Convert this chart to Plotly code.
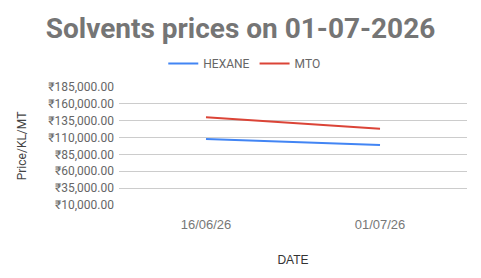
import plotly.graph_objects as go

dates = ["16/06/26", "01/07/26"]
hexane = [108000, 99000]
mto = [140000, 123000]
y_ticks = [10000, 35000, 60000, 85000, 110000, 135000, 160000, 185000]
y_ticktext = ["₹{:,.2f}".format(v) for v in y_ticks]

fig = go.Figure()
fig.add_trace(go.Scatter(x=dates, y=hexane, name="HEXANE", mode="lines",
                         line=dict(color="#4285F4", width=2)))
fig.add_trace(go.Scatter(x=dates, y=mto, name="MTO", mode="lines",
                         line=dict(color="#DB4437", width=2)))

fig.update_layout(
    width=481, height=278,
    margin=dict(l=119, r=14, t=87, b=73, autoexpand=False),
    paper_bgcolor="white", plot_bgcolor="white",
    title=dict(text="<b>Solvents prices on 01-07-2026</b>", x=0.5, xanchor="center",
               y=0.9, yanchor="middle",
               font=dict(family="Roboto", size=28, color="#757575")),
    legend=dict(orientation="h", x=0.36, xanchor="center", y=1.2, yanchor="middle",
                font=dict(family="Roboto", size=12, color="#666666"),
                itemwidth=30),
    showlegend=True,
)
fig.update_xaxes(type="category", range=[-0.5, 1.5], showgrid=False, showline=False,
                 zeroline=False, ticks="", automargin=False, ticklabelstandoff=10,
                 tickfont=dict(family="Liberation Sans", size=13, color="#777777"),
                 title=dict(text="DATE", font=dict(family="Liberation Sans", size=12, color="#333333"),
                            standoff=24))
fig.update_yaxes(range=[10000, 185000], tickvals=y_ticks, ticktext=y_ticktext,
                 showgrid=True, gridcolor="#cccccc", gridwidth=1, zeroline=False,
                 showline=False, ticks="", automargin=False, ticklabelstandoff=4,
                 tickfont=dict(family="Roboto, Noto Sans, DejaVu Sans", size=12, color="#666666"),
                 title=dict(text="Price/KL/MT", font=dict(family="Roboto", size=12, color="#444444"),
                            standoff=19))

fig.write_html("out.html")
